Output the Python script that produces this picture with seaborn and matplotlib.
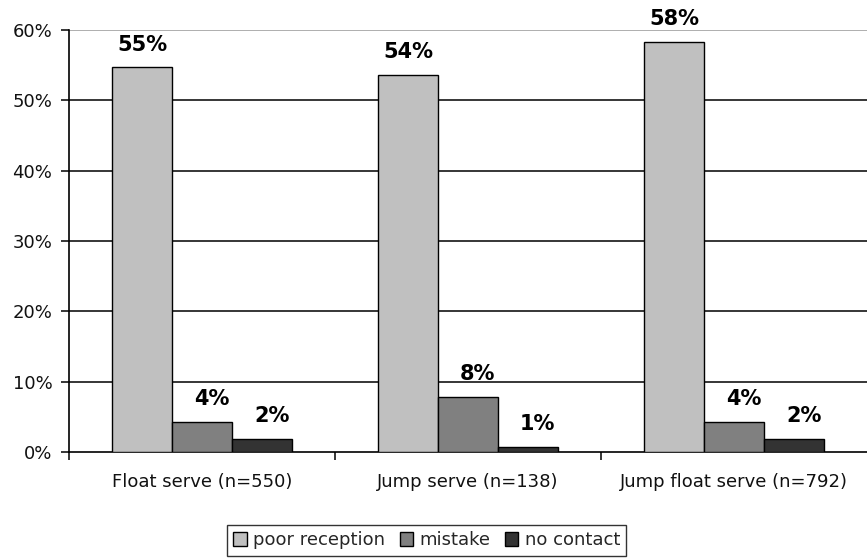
import matplotlib
matplotlib.use("Agg")
import matplotlib.pyplot as plt
from matplotlib.ticker import FixedLocator, PercentFormatter
import seaborn as sns
import pandas as pd

# Serve types and the share of each reception outcome
serves = ["Float serve (n=550)", "Jump serve (n=138)", "Jump float serve (n=792)"]
outcomes = ["poor reception", "mistake", "no contact"]
poor_reception = [54.7, 53.6, 58.3]
mistake = [4.3, 7.8, 4.3]
no_contact = [1.9, 0.7, 1.9]
y_ticks = [0, 10, 20, 30, 40, 50, 60]

colors = ["#c0c0c0", "#808080", "#333333"]
# horizontal nudge (points) of the value labels for each outcome
label_dx = [0, 7, 7]

rows = []
for outcome, values in zip(outcomes, [poor_reception, mistake, no_contact]):
    for serve, v in zip(serves, values):
        rows.append({"serve": serve, "outcome": outcome, "share": v})
df = pd.DataFrame(rows)

sns.set_style("white")
plt.rcParams["font.family"] = ["DejaVu Sans"]

fig = plt.figure(figsize=(8.67, 5.58), dpi=100)
ax = fig.add_axes([69 / 867, 1 - 452 / 558, 1 - 69 / 867, (452 - 30) / 558])

sns.barplot(data=df, x="serve", y="share", hue="outcome", order=serves,
            hue_order=outcomes, palette=colors, width=0.675,
            edgecolor="black", linewidth=1.0, saturation=1, ax=ax, zorder=3)

ax.set_ylim(0, 60)
ax.set_xlim(-0.5, 2.5)
ax.yaxis.set_major_locator(FixedLocator(y_ticks))
ax.yaxis.set_major_formatter(PercentFormatter(decimals=0))
ax.set_xlabel("")
ax.set_ylabel("")

# horizontal gridlines; the top one is drawn lighter
for t in y_ticks[1:-1]:
    ax.axhline(t, color="black", linewidth=1.1, zorder=1)
ax.axhline(60, color="#999999", linewidth=1.1, zorder=1)

for side in ["top", "right"]:
    ax.spines[side].set_visible(False)
for side in ["left", "bottom"]:
    ax.spines[side].set_color("black")
    ax.spines[side].set_linewidth(1.2)

ax.tick_params(axis="y", which="major", direction="out", length=6, width=1.1,
               color="black", labelsize=13, pad=6, labelcolor="#111111", left=True)
ax.tick_params(axis="x", which="major", length=0, labelsize=13, pad=15,
               labelcolor="#111111")
ax.xaxis.set_minor_locator(FixedLocator([-0.5, 0.5, 1.5]))
ax.tick_params(axis="x", which="minor", direction="out", length=6, width=1.1,
               color="black", bottom=True)

# value labels above each bar
for container, dx in zip(ax.containers, label_dx):
    for bar in container:
        h = bar.get_height()
        ax.annotate(f"{h:.0f}%", (bar.get_x() + bar.get_width() / 2, h),
                    xytext=(dx, 12), textcoords="offset points",
                    ha="center", va="baseline", fontsize=15, fontweight="bold",
                    color="black", annotation_clip=False)

handles, labels = ax.get_legend_handles_labels()
if ax.get_legend() is not None:
    ax.get_legend().remove()
leg = fig.legend(handles, labels, loc="upper left",
                 bbox_to_anchor=(227 / 867, 1 - 525 / 558), ncol=3, frameon=True,
                 fontsize=13, handlelength=0.75, handleheight=0.75,
                 handletextpad=0.35, columnspacing=0.8, borderpad=0.35,
                 fancybox=False, borderaxespad=0.0)
leg.get_frame().set_edgecolor("black")
leg.get_frame().set_linewidth(1.0)
for h in leg.legend_handles:
    h.set_edgecolor("black")
    h.set_linewidth(1.0)

fig.savefig("out.png", dpi=100)
